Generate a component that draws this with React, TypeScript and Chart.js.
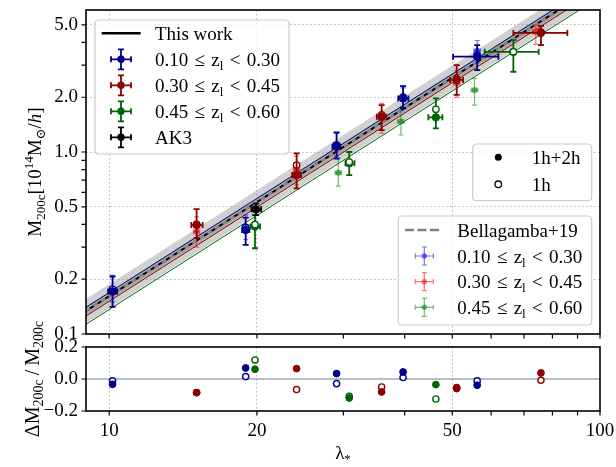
import React, { useEffect, useRef } from "react";
import { Chart, registerables } from "chart.js";

Chart.register(...registerables);

const FONT = "'Liberation Serif', 'DejaVu Serif', serif";
const FS = 19;

// ---------------- axes ----------------
const LAMBDA_MIN = 8.97;
const LAMBDA_MAX = 100;
const M_MIN = 0.1;
const M_MAX = 6.03;
const RES_MIN = -0.2;
const RES_MAX = 0.2;
const xMajorTicks = [10, 20, 50, 100];
const xTickLabels = ["10", "20", "50", "100"];
const xMinorTicks = [30, 40, 60, 70, 80, 90];
const yMajorTicks = [0.1, 0.2, 0.5, 1, 2, 5];
const yTickLabels = ["0.1", "0.2", "0.5", "1.0", "2.0", "5.0"];
const yMinorTicks = [0.3, 0.4, 0.6, 0.7, 0.8, 0.9, 3, 4];
const resTicks = [-0.2, 0, 0.2];
const resTickLabels = ["\u22120.2", "0.0", "0.2"];

// ---------------- model lines ----------------
const lineLambda = [8.97, 100];
const thisWorkM = [0.1338, 8.42];
const thisWorkBandHi = [0.1557, 9.8];
const thisWorkBandLo = [0.115, 7.23];
const b19M = [0.1338, 8.42];
const b19BandHi = [0.1408, 8.86];
const b19BandLo = [0.1272, 8.0];
const modelBin1M = [0.1402, 8.82];
const modelBin2M = [0.1256, 7.9];
const modelBin3M = [0.1131, 7.12];

// ---------------- this work: 0.10 <= z < 0.30 ----------------
const bin1Lambda = [10.16, 18.97, 29.06, 39.7, 56.2];
const bin1LambdaLo = [9.95, 18.65, 28.5, 38.8, 50.2];
const bin1LambdaHi = [10.38, 19.3, 29.6, 40.7, 62.1];
const bin1M = [0.171, 0.373, 1.07, 1.97, 3.34];
const bin1MLo = [0.141, 0.309, 0.92, 1.74, 2.82];
const bin1MHi = [0.207, 0.436, 1.28, 2.3, 3.87];
const bin1M1h = [0.176, 0.385, 1.09, 2.0, 3.4];

// ---------------- this work: 0.30 <= z < 0.45 ----------------
const bin2Lambda = [15.07, 24.09, 35.9, 51.05, 75.8];
const bin2LambdaLo = [14.7, 23.6, 35.1, 49.5, 66.6];
const bin2LambdaHi = [15.5, 24.6, 36.7, 52.6, 85.8];
const bin2M = [0.397, 0.747, 1.563, 2.49, 4.51];
const bin2MLo = [0.336, 0.632, 1.32, 2.06, 3.87];
const bin2MHi = [0.485, 0.984, 1.81, 3.0, 4.93];
const bin2M1h = [0.4, 0.848, 1.6, 2.52, 4.55];

// ---------------- this work: 0.45 <= z < 0.60 ----------------
const bin3Lambda = [19.82, 30.84, 46.3, 66.6];
const bin3LambdaLo = [19.4, 30.3, 44.7, 58.2];
const bin3LambdaHi = [20.3, 31.6, 47.75, 75.0];
const bin3M = [0.39, 0.867, 1.55, 3.55];
const bin3MLo = [0.296, 0.747, 1.35, 2.76];
const bin3MHi = [0.45, 1.0, 1.97, 4.12];
const bin3M1h = [0.4, 0.88, 1.716, 3.55];

// ---------------- AK3 ----------------
const ak3Lambda = [19.91];
const ak3LambdaLo = [19.5];
const ak3LambdaHi = [20.4];
const ak3M = [0.484];
const ak3MLo = [0.45];
const ak3MHi = [0.52];

// ---------------- Bellagamba+19 ----------------
const b19Bin1Lambda = [10.16, 18.97, 29.06, 39.7, 56.2];
const b19Bin1M = [0.176, 0.39, 1.1, 2.0, 3.6];
const b19Bin1MLo = [0.15, 0.33, 0.95, 1.75, 3.1];
const b19Bin1MHi = [0.21, 0.45, 1.27, 2.25, 4.1];
const b19Bin2Lambda = [15.07, 24.09, 35.9, 51.05, 74.0];
const b19Bin2M = [0.365, 0.8, 1.53, 2.39, 4.58];
const b19Bin2MLo = [0.3, 0.66, 1.27, 2.0, 3.9];
const b19Bin2MHi = [0.44, 0.95, 1.85, 2.8, 5.0];
const b19Bin3Lambda = [29.3, 39.3, 55.5];
const b19Bin3M = [0.77, 1.47, 2.19];
const b19Bin3MLo = [0.65, 1.24, 1.81];
const b19Bin3MHi = [0.93, 1.7, 2.54];

// ---------------- residuals ----------------
const resBin1Filled = [-0.033, 0.069, 0.034, 0.044, -0.039];
const resBin1Open = [-0.012, 0.015, -0.029, 0.009, -0.012];
const resBin2Filled = [-0.085, 0.065, -0.081, -0.06, 0.038];
const resBin2Open = [-0.085, -0.066, -0.05, -0.054, -0.008];
const resBin3Lambda = [19.82, 30.84, 46.3];
const resBin3Filled = [0.061, -0.119, -0.035];
const resBin3Open = [0.119, -0.108, -0.125];

// ---------------- colours ----------------
const DB = "#00008b";
const DR = "#8b0000";
const DG = "#006400";
const LB = "rgba(0,0,255,0.55)";
const LR = "rgba(255,0,0,0.55)";
const LG = "rgba(0,128,0,0.55)";
const GRID = "#b4b4b4";

// ---------------- helpers ----------------
function pts(xs: number[], ys: any[], xlo?: number[], xhi?: number[], ylo?: number[], yhi?: number[]) {
  const out: any[] = [];
  xs.forEach((x, i) => {
    if (ys[i] == null) return;
    out.push({ x, y: ys[i], xlo: xlo ? xlo[i] : null, xhi: xhi ? xhi[i] : null, ylo: ylo ? ylo[i] : null, yhi: yhi ? yhi[i] : null });
  });
  return out;
}

function lineDs(ys: number[], color: string, width: number, dash: number[] = [], fill: any = false, bg = "rgba(0,0,0,0)") {
  return {
    data: pts(lineLambda, ys),
    showLine: true,
    borderColor: color,
    borderWidth: width,
    borderDash: dash,
    pointRadius: 0,
    fill,
    backgroundColor: bg,
    tension: 0,
  };
}

function pointDs(data: any[], color: string, r: number, open: boolean, eb: any = null) {
  return {
    data,
    showLine: false,
    pointRadius: r,
    pointHoverRadius: r,
    pointStyle: "circle",
    pointBackgroundColor: open ? "#ffffff" : color,
    pointBorderColor: color,
    pointBorderWidth: open ? 1.4 : 1,
    eb,
  };
}

const sameVal = (a: number, b: number) => Math.abs(a - b) < 1e-9 * Math.max(1, Math.abs(a));

type Seg = { t: string; s?: "sub" | "sup"; it?: boolean };
function segFont(seg: Seg, size: number) {
  const sz = seg.s ? Math.round(size * 0.7) : size;
  return `${seg.it ? "italic " : ""}${sz}px ${FONT}`;
}
function richWidth(ctx: CanvasRenderingContext2D, segs: Seg[], size: number) {
  let w = 0;
  for (const s of segs) {
    ctx.font = segFont(s, size);
    w += ctx.measureText(s.t).width;
  }
  return w;
}
function drawRich(ctx: CanvasRenderingContext2D, segs: Seg[], x: number, y: number, size: number, align: "left" | "center" | "right") {
  const w = richWidth(ctx, segs, size);
  let cx = align === "left" ? x : align === "center" ? x - w / 2 : x - w;
  ctx.textAlign = "left";
  ctx.textBaseline = "alphabetic";
  ctx.fillStyle = "#000";
  for (const s of segs) {
    ctx.font = segFont(s, size);
    const dy = s.s === "sub" ? size * 0.22 : s.s === "sup" ? -size * 0.4 : 0;
    ctx.fillText(s.t, cx, y + dy);
    cx += ctx.measureText(s.t).width;
  }
}

function roundRect(ctx: CanvasRenderingContext2D, x0: number, y0: number, x1: number, y1: number, r: number) {
  ctx.beginPath();
  ctx.moveTo(x0 + r, y0);
  ctx.lineTo(x1 - r, y0);
  ctx.quadraticCurveTo(x1, y0, x1, y0 + r);
  ctx.lineTo(x1, y1 - r);
  ctx.quadraticCurveTo(x1, y1, x1 - r, y1);
  ctx.lineTo(x0 + r, y1);
  ctx.quadraticCurveTo(x0, y1, x0, y1 - r);
  ctx.lineTo(x0, y0 + r);
  ctx.quadraticCurveTo(x0, y0, x0 + r, y0);
  ctx.closePath();
}
function legendBox(ctx: CanvasRenderingContext2D, x0: number, y0: number, x1: number, y1: number) {
  roundRect(ctx, x0, y0, x1, y1, 4);
  ctx.fillStyle = "rgba(255,255,255,0.8)";
  ctx.fill();
  ctx.strokeStyle = "#cccccc";
  ctx.lineWidth = 1.2;
  ctx.stroke();
}
function errHandle(ctx: CanvasRenderingContext2D, cx: number, cy: number, color: string, hx: number, hy: number, cap: number, r: number, lw: number) {
  ctx.strokeStyle = color;
  ctx.lineWidth = lw;
  ctx.beginPath();
  ctx.moveTo(cx - hx, cy); ctx.lineTo(cx + hx, cy);
  ctx.moveTo(cx - hx, cy - cap); ctx.lineTo(cx - hx, cy + cap);
  ctx.moveTo(cx + hx, cy - cap); ctx.lineTo(cx + hx, cy + cap);
  ctx.moveTo(cx, cy - hy); ctx.lineTo(cx, cy + hy);
  ctx.moveTo(cx - cap, cy - hy); ctx.lineTo(cx + cap, cy - hy);
  ctx.moveTo(cx - cap, cy + hy); ctx.lineTo(cx + cap, cy + hy);
  ctx.stroke();
  ctx.fillStyle = color;
  ctx.beginPath();
  ctx.arc(cx, cy, r, 0, Math.PI * 2);
  ctx.fill();
}
const zbin = (a: string, b: string): Seg[] => [{ t: `${a}\u2004\u2264\u2004z` }, { t: "l", s: "sub" }, { t: `\u2004<\u2004${b}` }];

// ---------------- plugins ----------------
const errorBarPlugin = {
  id: "errbars",
  beforeDatasetDraw(chart: any, args: any) {
    const ds = chart.data.datasets[args.index];
    const eb = ds.eb;
    if (!eb) return;
    const { ctx, chartArea: a } = chart;
    const xs = chart.scales.x;
    const ys = chart.scales.y;
    ctx.save();
    ctx.beginPath();
    ctx.rect(a.left, a.top, a.right - a.left, a.bottom - a.top);
    ctx.clip();
    ctx.strokeStyle = eb.color;
    ctx.lineWidth = eb.lw;
    for (const p of ds.data) {
      const px = xs.getPixelForValue(p.x);
      const py = ys.getPixelForValue(p.y);
      ctx.beginPath();
      if (p.xlo != null) {
        const x0 = xs.getPixelForValue(p.xlo);
        const x1 = xs.getPixelForValue(p.xhi);
        ctx.moveTo(x0, py); ctx.lineTo(x1, py);
        ctx.moveTo(x0, py - eb.cap); ctx.lineTo(x0, py + eb.cap);
        ctx.moveTo(x1, py - eb.cap); ctx.lineTo(x1, py + eb.cap);
      }
      if (p.ylo != null) {
        const y0 = ys.getPixelForValue(p.ylo);
        const y1 = ys.getPixelForValue(p.yhi);
        ctx.moveTo(px, y0); ctx.lineTo(px, y1);
        ctx.moveTo(px - eb.cap, y0); ctx.lineTo(px + eb.cap, y0);
        ctx.moveTo(px - eb.cap, y1); ctx.lineTo(px + eb.cap, y1);
      }
      ctx.stroke();
    }
    ctx.restore();
  },
};

function framePlugin(xTicks: number[], yTicks: number[]) {
  return {
    id: "frame",
    afterDatasetsDraw(chart: any) {
      const { ctx, chartArea: a } = chart;
      const xs = chart.scales.x;
      const ys = chart.scales.y;
      ctx.save();
      ctx.strokeStyle = "#000";
      ctx.lineWidth = 1.2;
      ctx.beginPath();
      for (const v of xTicks) {
        const px = xs.getPixelForValue(v);
        if (px < a.left + 1 || px > a.right + 0.5) continue;
        ctx.moveTo(px, a.bottom);
        ctx.lineTo(px, a.bottom + 4.5);
      }
      for (const v of yTicks) {
        const py = ys.getPixelForValue(v);
        if (py < a.top - 0.5 || py > a.bottom + 0.5) continue;
        ctx.moveTo(a.left - 4.5, py);
        ctx.lineTo(a.left, py);
      }
      ctx.stroke();
      ctx.lineWidth = 1.6;
      ctx.strokeRect(a.left, a.top, a.right - a.left, a.bottom - a.top);
      ctx.restore();
    },
  };
}

const topDecorPlugin = {
  id: "topdecor",
  afterDraw(chart: any) {
    const ctx: CanvasRenderingContext2D = chart.ctx;
    ctx.save();
    // y-axis title
    ctx.save();
    ctx.translate(41, 172);
    ctx.rotate(-Math.PI / 2);
    drawRich(ctx, [
      { t: "M" }, { t: "200c", s: "sub" }, { t: "[10" }, { t: "14", s: "sup" },
      { t: "M" }, { t: "\u2299", s: "sub" }, { t: "/" }, { t: "h", it: true }, { t: "]" },
    ], 0, 0, FS, "center");
    ctx.restore();

    // legend 1
    legendBox(ctx, 95, 20, 289, 154);
    const rows1 = [33.3, 59.3, 85.3, 111.3, 137.3];
    ctx.strokeStyle = "#000";
    ctx.lineWidth = 2.6;
    ctx.beginPath();
    ctx.moveTo(101.7, rows1[0]);
    ctx.lineTo(140.7, rows1[0]);
    ctx.stroke();
    errHandle(ctx, 121, rows1[1], DB, 10, 10, 3, 3.7, 1.8);
    errHandle(ctx, 121, rows1[2], DR, 10, 10, 3, 3.7, 1.8);
    errHandle(ctx, 121, rows1[3], DG, 10, 10, 3, 3.7, 1.8);
    errHandle(ctx, 121, rows1[4], "#000", 10, 10, 3, 3.7, 1.8);
    drawRich(ctx, [{ t: "This work" }], 155, rows1[0] + 6.5, FS, "left");
    drawRich(ctx, zbin("0.10", "0.30"), 155, rows1[1] + 6.5, FS, "left");
    drawRich(ctx, zbin("0.30", "0.45"), 155, rows1[2] + 6.5, FS, "left");
    drawRich(ctx, zbin("0.45", "0.60"), 155, rows1[3] + 6.5, FS, "left");
    drawRich(ctx, [{ t: "AK3" }], 155, rows1[4] + 6.5, FS, "left");

    // legend 2
    legendBox(ctx, 472.7, 144, 591.7, 200.7);
    ctx.fillStyle = "#000";
    ctx.beginPath();
    ctx.arc(498.3, 157.3, 3.5, 0, Math.PI * 2);
    ctx.fill();
    ctx.strokeStyle = "#000";
    ctx.lineWidth = 1.3;
    ctx.beginPath();
    ctx.arc(498.3, 184.3, 3.3, 0, Math.PI * 2);
    ctx.stroke();
    drawRich(ctx, [{ t: "1h+2h" }], 531.7, 157.3 + 6.5, FS, "left");
    drawRich(ctx, [{ t: "1h" }], 531.7, 184.3 + 6.5, FS, "left");

    // legend 3
    legendBox(ctx, 398.3, 216, 591.7, 325);
    const rows3 = [230, 256, 281.7, 307.3];
    ctx.strokeStyle = "#808080";
    ctx.lineWidth = 2.6;
    ctx.setLineDash([9, 3.5]);
    ctx.beginPath();
    ctx.moveTo(405, rows3[0]);
    ctx.lineTo(441.7, rows3[0]);
    ctx.stroke();
    ctx.setLineDash([]);
    errHandle(ctx, 424.3, rows3[1], LB, 9, 9, 2.5, 2.7, 1.2);
    errHandle(ctx, 424.3, rows3[2], LR, 9, 9, 2.5, 2.7, 1.2);
    errHandle(ctx, 424.3, rows3[3], LG, 9, 9, 2.5, 2.7, 1.2);
    drawRich(ctx, [{ t: "Bellagamba+19" }], 457.3, rows3[0] + 6.5, FS, "left");
    drawRich(ctx, zbin("0.10", "0.30"), 457.3, rows3[1] + 6.5, FS, "left");
    drawRich(ctx, zbin("0.30", "0.45"), 457.3, rows3[2] + 6.5, FS, "left");
    drawRich(ctx, zbin("0.45", "0.60"), 457.3, rows3[3] + 6.5, FS, "left");
    ctx.restore();
  },
};

const botDecorPlugin = {
  id: "botdecor",
  afterDraw(chart: any) {
    const ctx: CanvasRenderingContext2D = chart.ctx;
    ctx.save();
    ctx.translate(39, 79);
    ctx.rotate(-Math.PI / 2);
    drawRich(ctx, [{ t: "\u0394M" }, { t: "200c", s: "sub" }, { t: "\u2009/\u2009M" }, { t: "200c", s: "sub" }], 0, 0, 20, "center");
    ctx.restore();
    drawRich(ctx, [{ t: "\u03bb" }, { t: "*", s: "sub" }], 343, 159, FS, "center");
  },
};

// ---------------- scale factories ----------------
function xScale(showLabels: boolean, height: number) {
  return {
    type: "logarithmic",
    min: LAMBDA_MIN,
    max: LAMBDA_MAX,
    position: "bottom",
    afterBuildTicks: (s: any) => {
      s.ticks = [...xMajorTicks, ...xMinorTicks].sort((a, b) => a - b).map((v) => ({ value: v }));
    },
    afterFit: (s: any) => {
      s.height = height;
      s.paddingLeft = 0;
      s.paddingRight = 0;
    },
    ticks: {
      display: showLabels,
      autoSkip: false,
      maxRotation: 0,
      padding: 9,
      color: "#000",
      font: { family: FONT, size: FS },
      callback: (v: number) => {
        const i = xMajorTicks.findIndex((m) => sameVal(m, v));
        return i >= 0 ? xTickLabels[i] : "";
      },
    },
    grid: {
      drawTicks: false,
      lineWidth: 1,
      color: (c: any) => (c.tick && [10, 20, 50].some((m) => sameVal(m, c.tick.value)) ? GRID : "rgba(0,0,0,0)"),
    },
    border: { display: false, dash: [1.5, 2.5] },
  };
}

function topConfig(): any {
  const datasets: any[] = [
    lineDs(thisWorkBandHi, "rgba(0,0,0,0)", 0, [], 1, "rgba(150,150,150,0.45)"),
    lineDs(thisWorkBandLo, "rgba(0,0,0,0)", 0),
    lineDs(b19BandHi, "rgba(0,0,0,0)", 0, [], 3, "rgba(90,90,90,0.35)"),
    lineDs(b19BandLo, "rgba(0,0,0,0)", 0),
    lineDs(modelBin1M, DB, 1),
    lineDs(modelBin2M, DR, 1),
    lineDs(modelBin3M, DG, 1),
    lineDs(thisWorkM, "#000", 2),
    lineDs(b19M, "#8a8a8a", 2.4, [5, 4]),
    pointDs(pts(b19Bin1Lambda, b19Bin1M, b19Bin1Lambda.map((v) => v * 0.985), b19Bin1Lambda.map((v) => v * 1.015), b19Bin1MLo, b19Bin1MHi), LB, 2.6, false, { color: LB, lw: 1.2, cap: 2.5 }),
    pointDs(pts(b19Bin2Lambda, b19Bin2M, b19Bin2Lambda.map((v) => v * 0.985), b19Bin2Lambda.map((v) => v * 1.015), b19Bin2MLo, b19Bin2MHi), LR, 2.6, false, { color: LR, lw: 1.2, cap: 2.5 }),
    pointDs(pts(b19Bin3Lambda, b19Bin3M, b19Bin3Lambda.map((v) => v * 0.985), b19Bin3Lambda.map((v) => v * 1.015), b19Bin3MLo, b19Bin3MHi), LG, 2.6, false, { color: LG, lw: 1.2, cap: 2.5 }),
    pointDs(pts(bin1Lambda, bin1M1h), DB, 3.2, true),
    pointDs(pts(bin1Lambda, bin1M, bin1LambdaLo, bin1LambdaHi, bin1MLo, bin1MHi), DB, 3.7, false, { color: DB, lw: 1.8, cap: 3 }),
    pointDs(pts(bin2Lambda, bin2M1h), DR, 3.2, true),
    pointDs(pts(bin2Lambda, bin2M, bin2LambdaLo, bin2LambdaHi, bin2MLo, bin2MHi), DR, 3.7, false, { color: DR, lw: 1.8, cap: 3 }),
    pointDs(pts(bin3Lambda, bin3M, bin3LambdaLo, bin3LambdaHi, bin3MLo, bin3MHi), DG, 3.7, false, { color: DG, lw: 1.8, cap: 3 }),
    pointDs(pts(bin3Lambda, bin3M1h), DG, 3.2, true),
    pointDs(pts(ak3Lambda, ak3M, ak3LambdaLo, ak3LambdaHi, ak3MLo, ak3MHi), "#000", 3.7, false, { color: "#000", lw: 1.8, cap: 3 }),
  ];
  datasets.forEach((d, i) => (d.order = 100 - i));
  return {
    type: "scatter",
    data: { datasets },
    options: {
      responsive: false,
      animation: false,
      events: [],
      layout: { padding: { left: 0, right: 16, top: 10, bottom: 0 } },
      plugins: { legend: { display: false }, tooltip: { enabled: false } },
      scales: {
        x: xScale(false, 11),
        y: {
          type: "logarithmic",
          min: M_MIN,
          max: M_MAX,
          afterBuildTicks: (s: any) => {
            s.ticks = [...yMajorTicks, ...yMinorTicks].sort((a, b) => a - b).map((v) => ({ value: v }));
          },
          afterFit: (s: any) => {
            s.width = 86;
            s.paddingTop = 0;
            s.paddingBottom = 0;
          },
          ticks: {
            autoSkip: false,
            padding: 8,
            color: "#000",
            font: { family: FONT, size: FS },
            callback: (v: number) => {
              const i = yMajorTicks.findIndex((m) => sameVal(m, v));
              return i >= 0 ? yTickLabels[i] : "";
            },
          },
          grid: {
            drawTicks: false,
            lineWidth: 1,
            color: (c: any) => (c.tick && [0.2, 0.5, 1, 2, 5].some((m) => sameVal(m, c.tick.value)) ? GRID : "rgba(0,0,0,0)"),
          },
          border: { display: false, dash: [1.5, 2.5] },
        },
      },
    },
    plugins: [errorBarPlugin, framePlugin([...xMajorTicks, ...xMinorTicks], [...yMajorTicks, ...yMinorTicks]), topDecorPlugin],
  };
}

function botConfig(): any {
  const zeroLine = {
    data: pts(lineLambda, [0, 0]),
    showLine: true,
    borderColor: "#6f7f96",
    borderWidth: 1,
    pointRadius: 0,
    fill: false,
  };
  const datasets: any[] = [
    zeroLine,
    pointDs(pts(bin1Lambda, resBin1Open), DB, 3.1, true),
    pointDs(pts(bin1Lambda, resBin1Filled), DB, 3.4, false),
    pointDs(pts(bin2Lambda, resBin2Open), DR, 3.1, true),
    pointDs(pts(bin2Lambda, resBin2Filled), DR, 3.4, false),
    pointDs(pts(resBin3Lambda, resBin3Open), DG, 3.1, true),
    pointDs(pts(resBin3Lambda, resBin3Filled), DG, 3.4, false),
  ];
  datasets.forEach((d, i) => (d.order = 100 - i));
  return {
    type: "scatter",
    data: { datasets },
    options: {
      responsive: false,
      animation: false,
      events: [],
      layout: { padding: { left: 0, right: 16, top: 47, bottom: 0 } },
      plugins: { legend: { display: false }, tooltip: { enabled: false } },
      scales: {
        x: xScale(true, 56),
        y: {
          type: "linear",
          min: RES_MIN,
          max: RES_MAX,
          afterBuildTicks: (s: any) => {
            s.ticks = resTicks.map((v) => ({ value: v }));
          },
          afterFit: (s: any) => {
            s.width = 86;
            s.paddingTop = 0;
            s.paddingBottom = 0;
          },
          ticks: {
            autoSkip: false,
            padding: 8,
            color: "#000",
            font: { family: FONT, size: FS },
            callback: (v: number) => {
              const i = resTicks.findIndex((m) => sameVal(m, v));
              return i >= 0 ? resTickLabels[i] : "";
            },
          },
          grid: { drawTicks: false, color: "rgba(0,0,0,0)" },
          border: { display: false },
        },
      },
    },
    plugins: [framePlugin([...xMajorTicks, ...xMinorTicks], resTicks)],
  };
}

export default function App() {
  const topRef = useRef<HTMLCanvasElement>(null);
  const botRef = useRef<HTMLCanvasElement>(null);
  useEffect(() => {
    Chart.defaults.font.family = FONT;
    const c1 = new Chart(topRef.current as HTMLCanvasElement, topConfig());
    const cfg2 = botConfig();
    cfg2.plugins.push(botDecorPlugin);
    const c2 = new Chart(botRef.current as HTMLCanvasElement, cfg2);
    return () => {
      c1.destroy();
      c2.destroy();
    };
  }, []);
  return (
    <div style={{ position: "fixed", left: 0, top: 0, width: 616, height: 467, background: "#ffffff" }}>
      <canvas ref={topRef} width={616} height={345} style={{ position: "absolute", left: 0, top: 0 }} />
      <canvas ref={botRef} width={616} height={167} style={{ position: "absolute", left: 0, top: 300 }} />
    </div>
  );
}
